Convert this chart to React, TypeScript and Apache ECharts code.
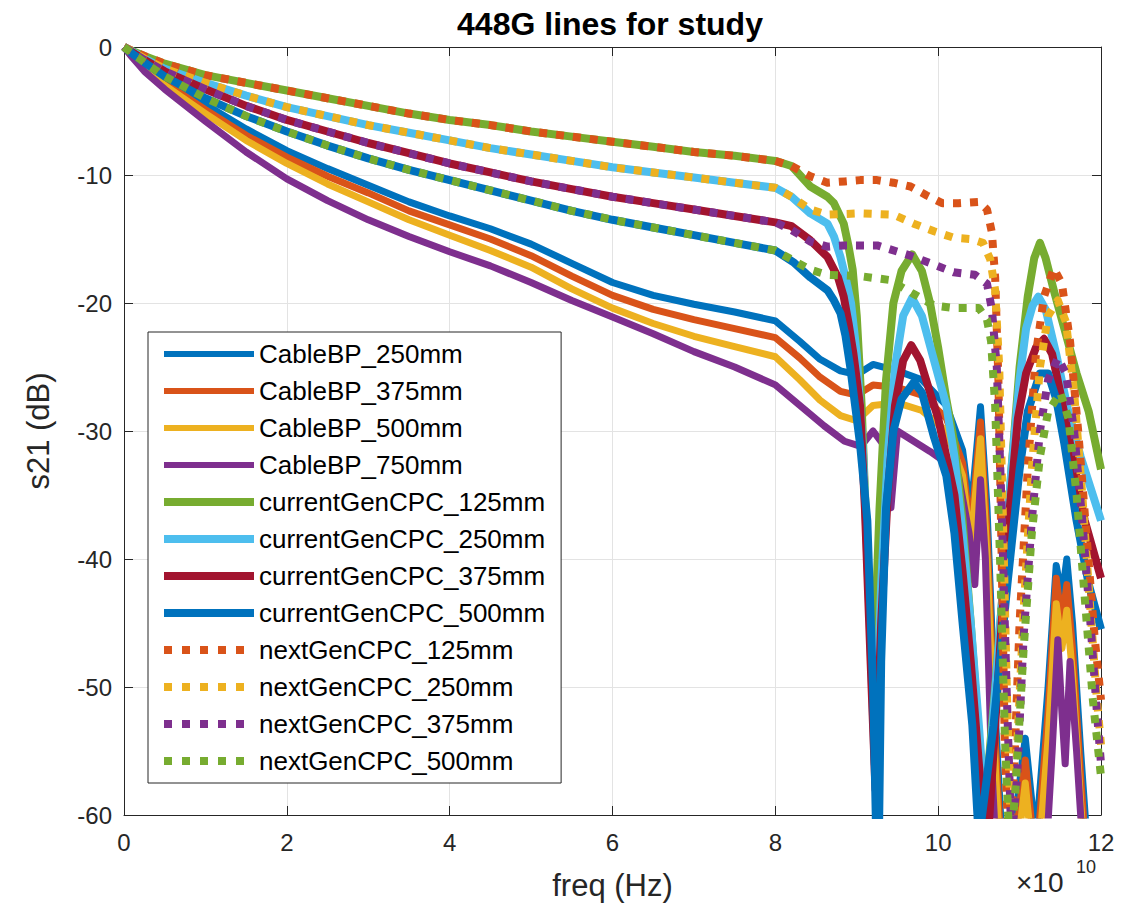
import React, { useEffect, useRef } from "react";
import * as echarts from "echarts";

const TITLE = "448G lines for study";
const X_NAME = "freq (Hz)";
const Y_NAME = "s21 (dB)";
const X_EXPONENT = "10";
const FONT = "'Liberation Sans', Arial, sans-serif";

// frequency in units of 1e10 Hz
const X_MIN = 0;
const X_MAX = 12;
const X_STEP = 2;
const Y_MIN = -60;
const Y_MAX = 0;
const Y_STEP = 10;

const seriesNames = [
  "CableBP_250mm",
  "CableBP_375mm",
  "CableBP_500mm",
  "CableBP_750mm",
  "currentGenCPC_125mm",
  "currentGenCPC_250mm",
  "currentGenCPC_375mm",
  "currentGenCPC_500mm",
  "nextGenCPC_125mm",
  "nextGenCPC_250mm",
  "nextGenCPC_375mm",
  "nextGenCPC_500mm",
];

const seriesColors = [
  "#0072BD", "#D95319", "#EDB120", "#7E2F8E",
  "#77AC30", "#4DBEEE", "#A2142F", "#0072BD",
  "#D95319", "#EDB120", "#7E2F8E", "#77AC30",
];

// ---- CableBP (solid, lower group) ----
const cableFreq = [0, 0.1, 0.25, 0.5, 1, 1.5, 2, 2.5, 3, 3.5, 4, 4.5, 5, 5.5, 6, 6.5, 7, 7.5, 8, 8.3, 8.55, 8.8, 9.0, 9.2, 9.5, 9.8, 10.1, 10.3, 10.4, 10.52, 10.6, 10.7, 10.8, 10.95, 11.07, 11.2, 11.35, 11.45, 11.52, 11.58, 11.65, 11.75, 11.85, 12];
const cableBP250 = [0, -0.6, -1.4, -2.6, -4.5, -6.4, -8.1, -9.5, -10.8, -12.1, -13.2, -14.2, -15.4, -16.9, -18.4, -19.4, -20.1, -20.7, -21.4, -23.0, -24.4, -25.3, -25.6, -24.8, -25.3, -26.0, -28.0, -31.5, -36.5, -28.1, -36, -52, -64, -60, -54, -62, -50, -40.5, -43, -40, -45, -55, -64, -70];
const cableBP375 = [0, -0.65, -1.5, -2.8, -4.9, -6.9, -8.6, -10.1, -11.4, -12.8, -13.9, -15.0, -16.3, -17.9, -19.4, -20.5, -21.3, -22.0, -22.7, -24.3, -25.8, -26.9, -27.2, -26.4, -26.6, -27.2, -29.0, -32.5, -38, -29.3, -38, -54, -66, -62, -55.7, -64, -52, -41.5, -45, -42, -47, -57, -66, -72];
const cableBP500 = [0, -0.7, -1.6, -3.0, -5.2, -7.3, -9.1, -10.7, -12.1, -13.5, -14.7, -15.9, -17.2, -18.9, -20.4, -21.6, -22.6, -23.4, -24.2, -26.0, -27.6, -28.8, -29.2, -28.0, -27.8, -28.4, -30.0, -33.5, -39, -30.6, -40, -56, -68, -64, -57.5, -66, -54, -43.5, -47, -44, -49, -59, -68, -74];
const cable750Freq = [0, 0.1, 0.25, 0.5, 1, 1.5, 2, 2.5, 3, 3.5, 4, 4.5, 5, 5.5, 6, 6.5, 7, 7.5, 8, 8.3, 8.6, 8.85, 9.05, 9.2, 9.32, 9.42, 9.5, 9.7, 9.9, 10.1, 10.25, 10.38, 10.45, 10.52, 10.58, 10.65, 10.75, 11.0, 11.3, 11.4, 11.47, 11.52, 11.56, 11.62, 11.7, 11.8, 12];
const cableBP750 = [0, -0.8, -1.9, -3.3, -5.8, -8.2, -10.3, -12.0, -13.5, -14.8, -16.0, -17.1, -18.4, -19.8, -21.1, -22.4, -23.8, -25.0, -26.4, -28.0, -29.6, -30.8, -31.2, -30.0, -31, -36, -30.0, -30.8, -31.6, -32.5, -33.5, -38, -42, -33.8, -40, -55, -68, -66, -66, -55, -46.3, -52, -56, -48, -55, -65, -70];

// ---- shared low-frequency part of the CPC lines (current and next gen overlap) ----
const cpcLowFreq = [0, 0.1, 0.25, 0.5, 1, 1.5, 2, 2.5, 3, 3.5, 4, 4.5, 5, 5.5, 6, 6.5, 7, 7.5, 8];
const cpc125Low = [0, -0.3, -0.7, -1.3, -2.2, -2.8, -3.4, -4.0, -4.6, -5.2, -5.7, -6.1, -6.6, -7.0, -7.4, -7.8, -8.2, -8.5, -8.9];
const cpc250Low = [0, -0.35, -0.9, -1.7, -2.8, -3.8, -4.7, -5.4, -6.1, -6.7, -7.3, -7.9, -8.4, -8.9, -9.4, -9.8, -10.2, -10.6, -11.0];
const cpc375Low = [0, -0.4, -1.0, -1.9, -3.3, -4.6, -5.7, -6.6, -7.5, -8.3, -9.1, -9.8, -10.5, -11.1, -11.7, -12.2, -12.7, -13.2, -13.7];
const cpc500Low = [0, -0.5, -1.2, -2.3, -4.0, -5.4, -6.6, -7.7, -8.7, -9.6, -10.4, -11.2, -12.0, -12.8, -13.5, -14.1, -14.7, -15.3, -15.9];

// ---- currentGenCPC tails (solid) ----
const cur125TailFreq = [8.2, 8.43, 8.64, 8.72, 8.84, 8.9, 8.95, 9.0, 9.06, 9.12, 9.2, 9.28, 9.36, 9.45, 9.55, 9.68, 9.8, 9.9, 10.0, 10.1, 10.2, 10.3, 10.4, 10.5, 10.58, 10.7, 10.8, 10.9, 11.0, 11.1, 11.18, 11.25, 11.32, 11.42, 11.55, 11.7, 11.85, 12];
const cur125Tail = [-9.3, -10.9, -11.7, -12.2, -13.8, -15.6, -17.4, -21, -28, -38, -50, -36, -26, -20, -17.5, -16.2, -17.5, -20, -23.5, -27.5, -31, -37, -45, -54, -59, -50, -42, -33, -25, -19.5, -16.5, -15.3, -16.5, -19, -22, -25.5, -28.5, -33];
const cur250TailFreq = [8.2, 8.43, 8.64, 8.72, 8.8, 8.87, 8.93, 9.0, 9.08, 9.16, 9.22, 9.3, 9.38, 9.47, 9.57, 9.68, 9.8, 9.95, 10.1, 10.2, 10.3, 10.4, 10.5, 10.58, 10.68, 10.8, 10.9, 11.0, 11.08, 11.16, 11.23, 11.32, 11.45, 11.6, 11.75, 11.9, 12];
const cur250Tail = [-11.7, -13.0, -13.8, -14.8, -16.4, -18.2, -20, -24, -32, -45, -56, -42, -32, -25, -21, -19.6, -21, -24.5, -28, -32, -38, -45, -53, -60, -52, -42, -33, -26, -22, -20.2, -19.5, -20.5, -24, -28.5, -32, -35, -37];
const cur375TailFreq = [8.2, 8.43, 8.64, 8.77, 8.84, 8.9, 8.96, 9.04, 9.1, 9.17, 9.23, 9.3, 9.38, 9.47, 9.57, 9.67, 9.78, 9.9, 10.0, 10.1, 10.2, 10.3, 10.4, 10.5, 10.6, 10.68, 10.78, 10.88, 10.98, 11.08, 11.2, 11.3, 11.4, 11.5, 11.65, 11.8, 12];
const cur375Tail = [-14.0, -15.1, -16.4, -18, -19.5, -21.6, -24, -28, -36, -48, -58, -45, -35, -28, -24.5, -23.3, -24.5, -27, -29, -32, -35, -41, -48, -56, -63, -55, -45, -36, -29, -25.5, -23.5, -22.8, -24, -27, -32, -37, -41.5];
const cur500TailFreq = [8.22, 8.43, 8.64, 8.72, 8.8, 8.86, 8.92, 8.98, 9.04, 9.13, 9.2, 9.26, 9.3, 9.36, 9.45, 9.55, 9.7, 9.8, 9.95, 10.1, 10.2, 10.3, 10.42, 10.5, 10.58, 10.68, 10.85, 11.0, 11.1, 11.25, 11.35, 11.45, 11.55, 11.7, 11.85, 12];
const cur500Tail = [-16.8, -18.0, -19.0, -19.8, -20.8, -22.5, -25, -28, -31, -37, -50, -68, -48, -36, -30, -27.5, -26.2, -27, -30.5, -33.5, -38, -45, -53, -62, -58, -53, -42, -33, -28.5, -25.5, -25.5, -27.5, -31, -37, -42, -45.5];

// ---- nextGenCPC tails (dotted) ----
const next125TailFreq = [8.2, 8.43, 8.64, 8.85, 9.04, 9.25, 9.45, 9.66, 9.86, 10.05, 10.25, 10.5, 10.6, 10.66, 10.7, 10.74, 10.78, 10.82, 10.87, 10.93, 11.0, 11.1, 11.2, 11.3, 11.42, 11.52, 11.62, 11.72, 11.82, 11.92, 12];
const next125Tail = [-9.3, -10.1, -10.6, -10.5, -10.4, -10.4, -10.6, -10.9, -11.6, -12.2, -12.2, -12.1, -12.7, -14.5, -18, -26, -40, -55, -63, -57, -45, -33, -24, -19.5, -17.3, -18.5, -23, -30, -38, -46, -51];
const next250TailFreq = [8.2, 8.43, 8.64, 9.04, 9.45, 9.7, 9.95, 10.19, 10.4, 10.55, 10.64, 10.7, 10.75, 10.8, 10.85, 10.9, 10.96, 11.05, 11.15, 11.25, 11.35, 11.47, 11.57, 11.67, 11.77, 11.87, 11.95, 12];
const next250Tail = [-11.7, -12.7, -13.1, -13.0, -13.1, -13.8, -14.4, -14.9, -15.0, -15.3, -16.6, -19, -25, -38, -52, -63, -56, -44, -33, -25, -21, -19.8, -21.5, -27, -35, -44, -51, -54.5];
const next375TailFreq = [8.2, 8.43, 8.64, 8.84, 9.25, 9.66, 9.95, 10.19, 10.45, 10.6, 10.66, 10.72, 10.78, 10.84, 10.9, 10.97, 11.05, 11.15, 11.25, 11.35, 11.47, 11.57, 11.67, 11.77, 11.87, 11.95, 12];
const next375Tail = [-14.3, -15.2, -15.6, -15.5, -15.5, -16.3, -17.0, -17.6, -17.8, -18.5, -20.5, -25, -36, -50, -62, -57, -46, -37, -30, -26, -24.3, -25.5, -30, -37, -45, -52, -56];
const next500TailFreq = [8.2, 8.43, 8.64, 9.04, 9.4, 9.7, 9.95, 10.2, 10.5, 10.6, 10.65, 10.7, 10.76, 10.82, 10.88, 10.95, 11.05, 11.15, 11.25, 11.35, 11.5, 11.6, 11.7, 11.8, 11.9, 12];
const next500Tail = [-16.6, -17.4, -17.8, -17.9, -18.2, -19.3, -20.2, -20.4, -20.4, -21.3, -23, -28, -40, -54, -63, -58, -47, -38, -32, -28.5, -27, -29, -35, -43, -51, -57];

const seriesX: number[][] = [
  cableFreq, cableFreq, cableFreq, cable750Freq,
  cpcLowFreq.concat(cur125TailFreq), cpcLowFreq.concat(cur250TailFreq),
  cpcLowFreq.concat(cur375TailFreq), cpcLowFreq.concat(cur500TailFreq),
  cpcLowFreq.concat(next125TailFreq), cpcLowFreq.concat(next250TailFreq),
  cpcLowFreq.concat(next375TailFreq), cpcLowFreq.concat(next500TailFreq),
];
const seriesY: number[][] = [
  cableBP250, cableBP375, cableBP500, cableBP750,
  cpc125Low.concat(cur125Tail), cpc250Low.concat(cur250Tail),
  cpc375Low.concat(cur375Tail), cpc500Low.concat(cur500Tail),
  cpc125Low.concat(next125Tail), cpc250Low.concat(next250Tail),
  cpc375Low.concat(next375Tail), cpc500Low.concat(next500Tail),
];

const AXIS_COLOR = "#262626";
const GRID_COLOR = "#e3e3e3";

function styleFor(i: number) {
  if (i < 4) return { width: 7, type: "solid" as any };
  if (i < 8) return { width: 8, type: "solid" as any };
  return { width: 8, type: [8, 9] as any };
}

export default function App() {
  const ref = useRef<HTMLDivElement>(null);
  useEffect(() => {
    if (!ref.current) return;
    const chart = echarts.init(ref.current, undefined, { renderer: "svg" });
    const series = seriesNames.map((name, i) => {
      const st = styleFor(i);
      return {
        type: "line",
        name,
        data: seriesX[i].map((x, k) => [x, seriesY[i][k]]),
        symbol: "none",
        showSymbol: false,
        clip: true,
        lineStyle: { color: seriesColors[i], width: st.width, type: st.type, cap: "butt", join: "round" },
        itemStyle: { color: seriesColors[i] },
        emphasis: { disabled: true },
      };
    });
    const axisCommon = {
      axisLine: { show: true, onZero: false, lineStyle: { color: AXIS_COLOR, width: 1 } },
      axisTick: { show: true, inside: true, length: 9, lineStyle: { color: AXIS_COLOR, width: 1 } },
    };
    chart.setOption({
      animation: false,
      backgroundColor: "#ffffff",
      title: {
        text: TITLE,
        left: 605,
        top: 3,
        textAlign: "center",
        textStyle: { fontFamily: FONT, fontSize: 32, fontWeight: "bold", color: "#000" },
      },
      grid: { left: 124, right: 39, top: 47, bottom: 95, containLabel: false },
      xAxis: [
        {
          type: "value", min: X_MIN, max: X_MAX, interval: X_STEP, position: "bottom",
          name: X_NAME, nameLocation: "middle", nameGap: 55,
          nameTextStyle: { fontFamily: FONT, fontSize: 31, color: AXIS_COLOR },
          ...axisCommon,
          axisLabel: { fontFamily: FONT, fontSize: 24, color: AXIS_COLOR, margin: 15 },
          splitLine: { show: true, lineStyle: { color: GRID_COLOR, width: 1 } },
        },
        {
          type: "value", min: X_MIN, max: X_MAX, interval: X_STEP, position: "top",
          ...axisCommon,
          axisLabel: { show: false },
          splitLine: { show: false },
        },
      ],
      yAxis: [
        {
          type: "value", min: Y_MIN, max: Y_MAX, interval: Y_STEP, position: "left",
          name: Y_NAME, nameLocation: "middle", nameGap: 70, nameRotate: 90,
          nameTextStyle: { fontFamily: FONT, fontSize: 31, color: AXIS_COLOR },
          ...axisCommon,
          axisLabel: { fontFamily: FONT, fontSize: 24, color: AXIS_COLOR, margin: 12 },
          splitLine: { show: true, lineStyle: { color: GRID_COLOR, width: 1 } },
        },
        {
          type: "value", min: Y_MIN, max: Y_MAX, interval: Y_STEP, position: "right",
          ...axisCommon,
          axisLabel: { show: false },
          splitLine: { show: false },
        },
      ],
      legend: {
        orient: "vertical",
        left: 148,
        top: 332,
        itemWidth: 90,
        itemHeight: 14,
        itemGap: 11,
        padding: [9, 16, 9, 12],
        backgroundColor: "#ffffff",
        borderColor: AXIS_COLOR,
        borderWidth: 1,
        borderRadius: 0,
        selectedMode: false,
        itemStyle: { opacity: 0 },
        textStyle: { fontFamily: FONT, fontSize: 26, color: "#000", lineHeight: 26 },
        data: seriesNames.map((name, i) => ({
          name,
          itemStyle: { opacity: 0 },
          lineStyle: {
            color: seriesColors[i],
            width: i < 4 ? 6 : 8,
            type: i < 8 ? "solid" : [8, 10],
            opacity: 1,
            cap: "butt",
          },
        })),
      },
      graphic: [
        {
          type: "text",
          x: 1016,
          y: 868,
          style: { text: "\u00d710", fontFamily: FONT, fontSize: 28, fill: AXIS_COLOR },
        },
        {
          type: "text",
          x: 1076,
          y: 858,
          style: { text: X_EXPONENT, fontFamily: FONT, fontSize: 18, fill: AXIS_COLOR },
        },
      ],
      series,
    });
    return () => chart.dispose();
  }, []);
  return (
    <div
      ref={ref}
      style={{ position: "fixed", left: 0, top: 0, width: 1140, height: 910, background: "#fff" }}
    />
  );
}
